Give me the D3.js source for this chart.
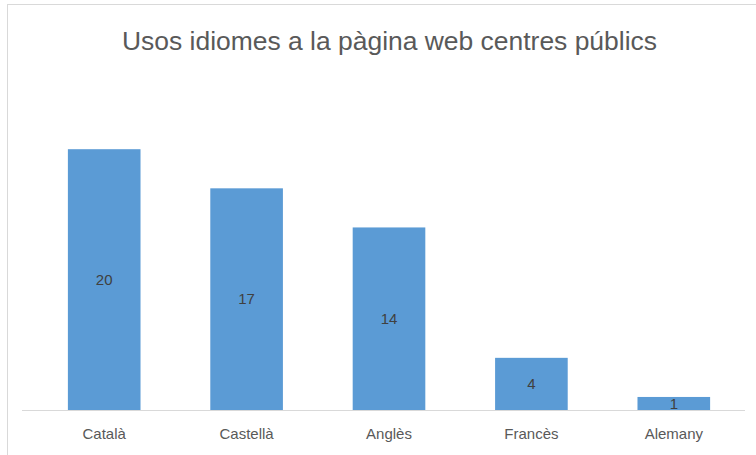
<!DOCTYPE html>
<html>
<head>
<meta charset="utf-8">
<script src="https://cdn.jsdelivr.net/npm/d3@7"></script>
<style>
  html, body { margin: 0; padding: 0; background: #fff; }
  svg { display: block; }
</style>
</head>
<body>
<svg id="chart" width="756" height="455"></svg>
<script>
// Languages used on public school websites
const categories = ["Català", "Castellà", "Anglès", "Francès", "Alemany"];
const values = [20, 17, 14, 4, 1];
const titleText = "Usos idiomes a la pàgina web centres públics";

const W = 756, H = 455;
const font = "'Liberation Sans', Arial, sans-serif";
const svg = d3.select("#chart");

// chart frame
svg.append("rect")
  .attr("x", 7.5).attr("y", 4.5)
  .attr("width", W + 10).attr("height", H + 10)
  .attr("fill", "#fff").attr("stroke", "#d9d9d9").attr("stroke-width", 1);

const plot = { left: 33, right: 745, top: 84, bottom: 410 };

const x = d3.scaleBand()
  .domain(categories)
  .range([plot.left, plot.right])
  .paddingInner(0.49)
  .paddingOuter(0.245);

const y = d3.scaleLinear()
  .domain([0, 25])
  .range([plot.bottom, plot.top]);

// bars
svg.append("g").selectAll("rect")
  .data(categories)
  .join("rect")
  .attr("x", d => x(d))
  .attr("y", (d, i) => y(values[i]))
  .attr("width", x.bandwidth())
  .attr("height", (d, i) => y(0) - y(values[i]))
  .attr("fill", "#5b9bd5");

// category axis
const xAxis = svg.append("g")
  .attr("transform", `translate(0,${plot.bottom})`)
  .call(d3.axisBottom(x).tickSize(0).tickPadding(18));
xAxis.select(".domain").remove();
xAxis.append("line")
  .attr("x1", 22).attr("x2", 745)
  .attr("y1", 0.5).attr("y2", 0.5)
  .attr("stroke", "#d9d9d9").attr("stroke-width", 1);
xAxis.selectAll("text")
  .attr("font-family", font)
  .attr("font-size", 15)
  .attr("fill", "#595959")
  .attr("dy", "0.71em");

// value labels centred in each bar
svg.append("g").selectAll("text")
  .data(categories)
  .join("text")
  .attr("x", d => x(d) + x.bandwidth() / 2)
  .attr("y", (d, i) => (y(values[i]) + y(0)) / 2)
  .attr("dy", "0.35em")
  .attr("text-anchor", "middle")
  .attr("font-family", font)
  .attr("font-size", 15)
  .attr("fill", "#404040")
  .text((d, i) => values[i]);

// title
const title = svg.append("text")
  .attr("x", 389.5)
  .attr("y", 50)
  .attr("text-anchor", "middle")
  .attr("font-family", font)
  .attr("font-size", 24)
  .attr("fill", "#595959")
  .text(titleText);
const tw = title.node().getComputedTextLength();
title.attr("font-size", 24 * 535 / tw);
</script>
</body>
</html>
